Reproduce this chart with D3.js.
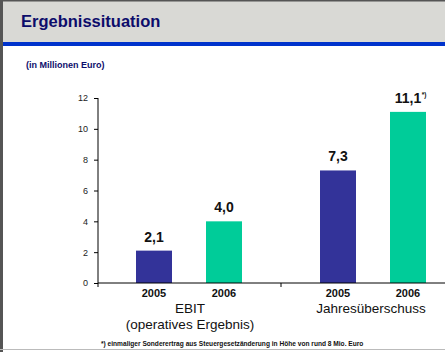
<!DOCTYPE html>
<html>
<head>
<meta charset="utf-8">
<script src="https://cdn.jsdelivr.net/npm/d3@7"></script>
<style>
  body { margin: 0; background: #fff; }
  svg { display: block; font-family: "Liberation Sans", Arial, sans-serif; }
</style>
</head>
<body>
<svg id="chart" width="445" height="352"></svg>
<script>
const groups = ["EBIT", "Jahresüberschuss"];
const groupLabels = [["EBIT", "(operatives Ergebnis)"], ["Jahresüberschuss"]];
const years = ["2005", "2006"];
const ebitValues = [2.1, 4.0];
const netValues = [7.3, 11.1];
const valueLabels = [["2,1", "4,0"], ["7,3", "11,1"]];
const valueMarks = [["", ""], ["", "*)"]];
const yTicks = [0, 2, 4, 6, 8, 10, 12];
const yearColors = ["#333399", "#00cc99"];

const svg = d3.select("#chart");

// frame and header
svg.append("rect").attr("x", 0).attr("y", 0).attr("width", 445).attr("height", 42).attr("fill", "#d9d9d5");
svg.append("rect").attr("x", 0).attr("y", 42).attr("width", 445).attr("height", 4).attr("fill", "#0033cc");
svg.append("rect").attr("x", 0).attr("y", 0).attr("width", 445).attr("height", 1.5).attr("fill", "#555");
svg.append("rect").attr("x", 0).attr("y", 0).attr("width", 3).attr("height", 352).attr("fill", "#555");
svg.append("rect").attr("x", 0).attr("y", 349).attr("width", 445).attr("height", 1).attr("fill", "#bbb");

svg.append("text")
	.attr("x", 21).attr("y", 27)
	.attr("font-size", "16.5px").attr("font-weight", "bold")
	.attr("fill", "#0d0d6b")
	.text("Ergebnissituation");

svg.append("text")
	.attr("x", 26).attr("y", 68)
	.attr("font-size", "9px").attr("font-weight", "bold")
	.attr("fill", "#0d0d6b")
	.text("(in Millionen Euro)");

const x0 = d3.scaleBand().domain(groups).range([98, 466]);
const x1 = d3.scalePoint().domain(years).range([56, 126]);
const y = d3.scaleLinear().domain([0, 12]).range([283, 98]);
const barW = 36;

const data = groups.map((g, gi) => years.map((yr, yi) => ({
	group: g,
	year: yr,
	yi: yi,
	value: gi === 0 ? ebitValues[yi] : netValues[yi],
	label: valueLabels[gi][yi],
	mark: valueMarks[gi][yi]
}))).flat();

// y axis
const yAxis = svg.append("g")
	.attr("transform", "translate(98,0)")
	.call(d3.axisLeft(y).tickValues(yTicks).tickSize(4).tickPadding(6).tickSizeOuter(0));
yAxis.select(".domain").attr("stroke", "#000");
yAxis.selectAll(".tick line").attr("stroke", "#000");
yAxis.selectAll(".tick text").attr("font-size", "9px").attr("fill", "#222")
	.attr("font-family", "Liberation Sans, Arial, sans-serif");
yAxis.select(".domain").attr("d", "M0,98V287");

// bars
svg.selectAll("rect.bar")
	.data(data)
	.join("rect")
	.attr("class", "bar")
	.attr("x", d => x0(d.group) + x1(d.year) - barW / 2)
	.attr("y", d => y(d.value))
	.attr("width", barW)
	.attr("height", d => y(0) - y(d.value))
	.attr("fill", d => yearColors[d.yi]);

// x axis
svg.append("line")
	.attr("x1", 98).attr("x2", 445)
	.attr("y1", y(0)).attr("y2", y(0))
	.attr("stroke", "#000");
svg.append("line")
	.attr("x1", x0(groups[1]) - 1).attr("x2", x0(groups[1]) - 1)
	.attr("y1", y(0)).attr("y2", y(0) + 4)
	.attr("stroke", "#000");

// value labels
const vl = svg.selectAll("text.val")
	.data(data)
	.join("text")
	.attr("class", "val")
	.attr("x", d => x0(d.group) + x1(d.year))
	.attr("y", d => y(d.value) - 9)
	.attr("text-anchor", "middle")
	.attr("font-size", "14px").attr("font-weight", "bold")
	.attr("fill", "#111")
	.text(d => d.label);

vl.each(function(d) {
	if (!d.mark) return;
	const w = this.getComputedTextLength();
	svg.append("text")
		.attr("x", x0(d.group) + x1(d.year) + w / 2 + 0.5)
		.attr("y", y(d.value) - 15)
		.attr("font-size", "6.5px").attr("font-weight", "bold")
		.attr("fill", "#111")
		.text(d.mark);
});

// year labels
svg.selectAll("text.year")
	.data(data)
	.join("text")
	.attr("class", "year")
	.attr("x", d => x0(d.group) + x1(d.year))
	.attr("y", 297)
	.attr("text-anchor", "middle")
	.attr("font-size", "11px").attr("font-weight", "bold")
	.attr("fill", "#111")
	.text(d => d.year);

// group labels
groups.forEach((g, gi) => {
	groupLabels[gi].forEach((line, li) => {
		svg.append("text")
			.attr("x", x0(g) + (gi === 0 ? 92 : 89))
			.attr("y", 313 + li * 16)
			.attr("text-anchor", "middle")
			.attr("font-size", "13.5px")
			.attr("fill", "#111")
			.text(line);
	});
});

svg.append("text")
	.attr("x", 101).attr("y", 346)
	.attr("font-size", "6.6px").attr("font-weight", "bold")
	.attr("fill", "#111")
	.text("*) einmaliger Sonderertrag aus Steuergesetzänderung in Höhe von rund 8 Mio. Euro");
</script>
</body>
</html>
